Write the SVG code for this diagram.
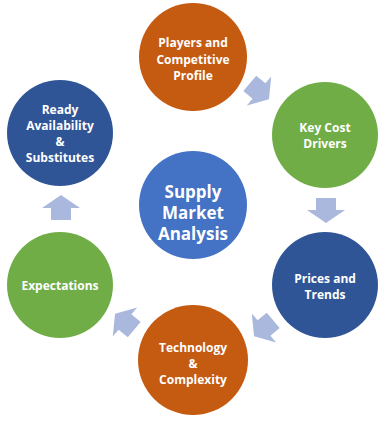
<svg xmlns="http://www.w3.org/2000/svg" width="388" height="422" viewBox="0 0 388 422">
<defs>
<style>
.lbl{font-family:"Open Sans","Liberation Sans",sans-serif;font-weight:bold;fill:#fff;text-anchor:middle;font-size:12px}
.big{font-size:17px}
.arr{fill:#a9b8dc}
.or{fill:#c55a11}.gr{fill:#70ad47}.db{fill:#2f5597}.mb{fill:#4472c4}
</style>
<path id="ar" d="M-12,-10 L0,-10 L0,-19 L13,0 L0,19 L0,10 L-12,10 Z"/>
</defs>
<rect width="388" height="422" fill="#fff"/>
<g id="connectors" class="arr">
<use href="#ar" transform="translate(259,91) rotate(40)"/>
<use href="#ar" transform="translate(326,210) rotate(90)"/>
<use href="#ar" transform="translate(264,328) rotate(140)"/>
<use href="#ar" transform="translate(125,322) rotate(220)"/>
<use href="#ar" transform="translate(61,208) rotate(-90)"/>
</g>
<g id="players"><circle class="or" cx="193" cy="57" r="54"/>
<text class="lbl" x="193" y="47">Players and</text><text class="lbl" x="193" y="64">Competitive</text><text class="lbl" x="193" y="80">Profile</text></g>
<g id="keycost"><circle class="gr" cx="325" cy="135" r="53"/>
<text class="lbl" x="325" y="132">Key Cost</text><text class="lbl" x="325" y="148">Drivers</text></g>
<g id="prices"><circle class="db" cx="325" cy="285" r="53"/>
<text class="lbl" x="325" y="283">Prices and</text><text class="lbl" x="325" y="299">Trends</text></g>
<g id="technology"><circle class="or" cx="193" cy="360" r="55"/>
<text class="lbl" x="193" y="352">Technology</text><text class="lbl" x="193" y="368">&amp;</text><text class="lbl" x="193" y="384">Complexity</text></g>
<g id="expectations"><circle class="gr" cx="60" cy="285" r="53"/>
<text class="lbl" x="60" y="290">Expectations</text></g>
<g id="ready"><circle class="db" cx="60" cy="133" r="53"/>
<text class="lbl" x="60" y="114">Ready</text><text class="lbl" x="60" y="130">Availability</text><text class="lbl" x="60" y="146">&amp;</text><text class="lbl" x="60" y="162">Substitutes</text></g>
<g id="center"><circle class="mb" cx="193" cy="205" r="54"/>
<text class="lbl big" x="193" y="198">Supply</text><text class="lbl big" x="193" y="219">Market</text><text class="lbl big" x="193" y="240">Analysis</text></g>
</svg>
